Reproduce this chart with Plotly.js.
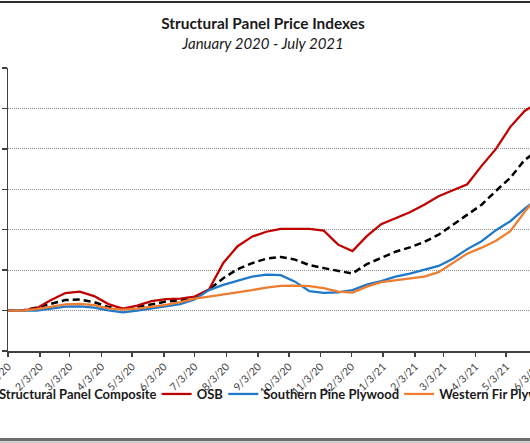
<!DOCTYPE html>
<html>
<head>
<meta charset="utf-8">
<script src="https://cdn.plot.ly/plotly-3.0.1.min.js"></script>
<style>
  html, body { margin:0; padding:0; background:#fff; }
  #wrap { position:absolute; left:0; top:0; width:530px; height:443px; overflow:hidden; background:#fff; }
  #chart { position:absolute; left:-95px; top:0; width:770px; height:443px; }
  #topline { position:absolute; left:0; top:1px; width:530px; height:2px; background:#2a2a2a; }
  #botline { position:absolute; left:0; top:438px; width:530px; height:3px; background:#6e6e6e; }
  #botline2 { position:absolute; left:0; top:441px; width:530px; height:2px; background:#cfcfcf; }
</style>
</head>
<body>
<div id="wrap">
  <div id="chart"></div>
  <div id="topline"></div>
  <div id="botline"></div>
  <div id="botline2"></div>
</div>
<script>
// Biweekly observation dates
const dates = [
  '2020-01-03','2020-01-17','2020-01-31','2020-02-14','2020-02-28','2020-03-13','2020-03-27',
  '2020-04-10','2020-04-24','2020-05-08','2020-05-22','2020-06-05','2020-06-19','2020-07-03',
  '2020-07-17','2020-07-31','2020-08-14','2020-08-28','2020-09-11','2020-09-25','2020-10-09',
  '2020-10-23','2020-11-06','2020-11-20','2020-12-04','2020-12-18','2021-01-01','2021-01-15',
  '2021-01-29','2021-02-12','2021-02-26','2021-03-12','2021-03-26','2021-04-09','2021-04-23',
  '2021-05-07','2021-05-21','2021-06-04'
];
// Index values (Jan 2020 = 100)
const composite = [100,100,103.7,108.6,113,113.6,110.5,104.3,102.1,104.3,108,111.1,112.3,116,
  125.9,140.1,151.2,158.6,164.2,166.3,163,156.2,152.5,149.4,145.9,157.4,165.4,172.8,
  178.1,184.8,193.8,206.2,218.5,230.9,248.1,264.2,286.4,298.8];
const osb = [100,100,103,113,121.6,123.5,117.9,108,102.5,106.2,111.7,114.2,114.8,117.3,
  125.9,158.9,179.6,191.4,197.5,201,201,201,198.8,181.5,173.5,192,206.8,214.2,
  221.6,230.9,241.4,248.8,256.2,279,300,327.2,346.9,358];
const southernPine = [100,99.6,100,102.5,104.9,105.3,103.7,100.2,97.9,99.8,102.7,105.3,108,113.6,
  125.3,131.7,137,141.9,144.4,143.8,135.8,124,121.8,122.5,125.3,132.1,136.4,142,
  145.7,150.6,155.2,164.2,176,185.8,199.4,210.5,226,239.5];
const westernFir = [100,100,101.9,105,107.7,108.3,106.8,102.7,101.2,102.5,104.3,107,110.5,114.8,
  117.3,119.8,122.5,125.3,128.4,130.5,130.9,130.3,127.8,123.5,122.2,129.6,135.2,137.7,
  140.1,142,147.5,158.6,170.4,177.8,186.4,198.1,222.2,243.2];

const seriesNames = ['Structural Panel Composite','OSB','Southern Pine Plywood','Western Fir Plywood'];
const tickDates = ['2020-01-03','2020-02-03','2020-03-03','2020-04-03','2020-05-03','2020-06-03',
  '2020-07-03','2020-08-03','2020-09-03','2020-10-03','2020-11-03','2020-12-03','2021-01-03',
  '2021-02-03','2021-03-03','2021-04-03','2021-05-03','2021-06-03','2021-07-03'];
const tickLabels = ['1/3/20','2/3/20','3/3/20','4/3/20','5/3/20','6/3/20','7/3/20','8/3/20',
  '9/3/20','10/3/20','11/3/20','12/3/20','1/3/21','2/3/21','3/3/21','4/3/21','5/3/21','6/3/21','7/3/21'];
const titleText = 'Structural Panel Price Indexes';
const subtitleText = 'January 2020 - July 2021';

const FONT = 'Lato, "Open Sans", sans-serif';
const traces = [
  {x: dates, y: composite, name: seriesNames[0], mode: 'lines',
   line: {color: '#000000', width: 2.5, dash: '7px,4px'}},
  {x: dates, y: osb, name: seriesNames[1], mode: 'lines',
   line: {color: '#C00000', width: 2.25}},
  {x: dates, y: southernPine, name: seriesNames[2], mode: 'lines',
   line: {color: '#1F78C8', width: 2.25}},
  {x: dates, y: westernFir, name: seriesNames[3], mode: 'lines',
   line: {color: '#ED7D31', width: 2.25}}
];

const W = 770, H = 443, OFFSET = 95;
const layout = {
  width: W, height: H,
  margin: {l: 103, r: 15, t: 68, b: 92},
  paper_bgcolor: '#ffffff', plot_bgcolor: '#ffffff',
  font: {family: FONT, color: '#262626'},
  title: {
    text: '<b>' + titleText + '</b><br><span style="font-size:15px"><i>' + subtitleText + '</i></span>',
    font: {family: FONT, size: 15.4, color: '#1a1a1a'},
    xref: 'container', x: (263 + OFFSET) / W, xanchor: 'center',
    yref: 'container', y: 1 - 28.5 / H, yanchor: 'middle'
  },
  xaxis: {
    type: 'date',
    range: ['2020-01-03', '2021-09-30'],
    tickmode: 'array', tickvals: tickDates, ticktext: tickLabels,
    tickangle: -45, tickfont: {family: FONT, size: 10.5, color: '#404040'},
    showline: true, linecolor: '#404040', linewidth: 1.5,
    ticks: 'outside', ticklen: 4, tickcolor: '#404040', tickwidth: 1.5,
    showgrid: false, zeroline: false, automargin: false
  },
  yaxis: {
    range: [50, 400], tickmode: 'linear', tick0: 50, dtick: 50,
    showticklabels: false,
    showline: true, linecolor: '#404040', linewidth: 1.5,
    ticks: 'outside', ticklen: 5, tickcolor: '#404040', tickwidth: 1.5,
    showgrid: true, gridcolor: '#8c8c8c', gridwidth: 1, griddash: '1px,1px',
    zeroline: false, automargin: false
  },
  showlegend: true,
  legend: {
    orientation: 'h', xref: 'container', x: (265 + OFFSET) / W, xanchor: 'center',
    yref: 'container', y: 1 - 394 / H, yanchor: 'middle',
    font: {family: FONT, size: 13, color: '#1a1a1a', weight: 'bold'},
    bgcolor: 'rgba(0,0,0,0)', itemwidth: 30, tracegroupgap: 0, indentation: -5
  }
};

Plotly.newPlot('chart', traces, layout, {displayModeBar: false, staticPlot: true});
</script>
</body>
</html>
